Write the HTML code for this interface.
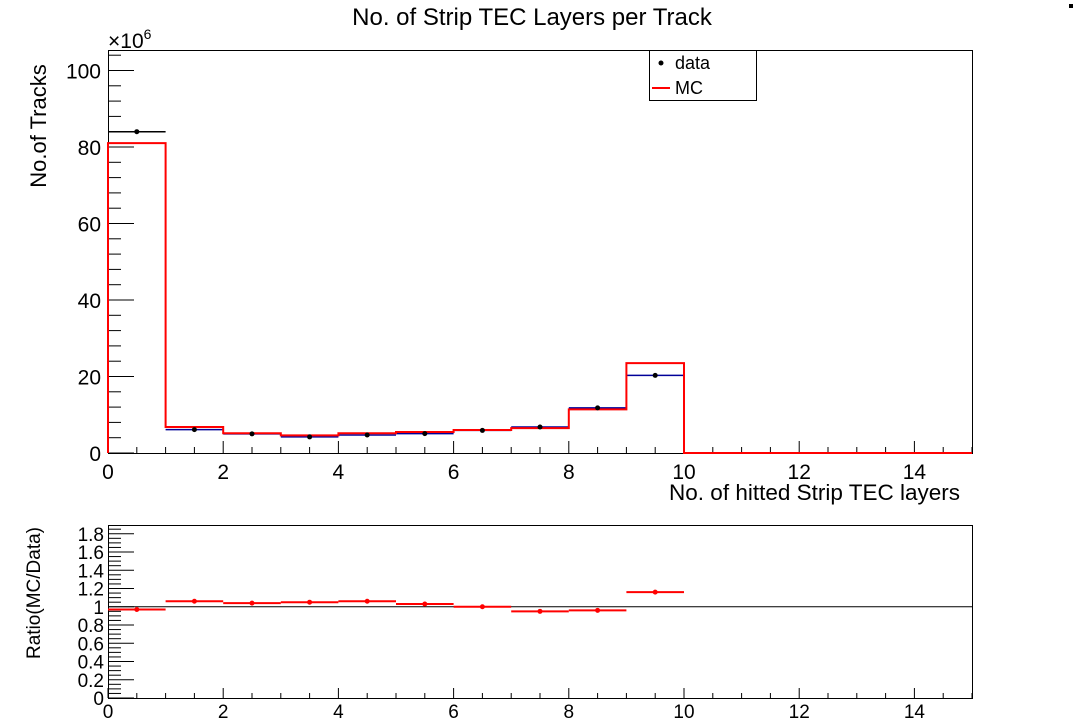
<!DOCTYPE html>
<html><head><meta charset="utf-8"><style>
body{margin:0;background:#fff;}
svg{display:block;font-family:"Liberation Sans",Arial,sans-serif;}
</style></head><body>
<svg id="c" width="1080" height="720" xmlns="http://www.w3.org/2000/svg">
<rect x="1069" y="4" width="4" height="4" fill="#000"/>
<text x="532" y="25" font-size="24" text-anchor="middle">No. of Strip TEC Layers per Track</text>
<text x="108" y="48" font-size="21">×10<tspan dy="-9" font-size="14">6</tspan></text>
<text transform="translate(46,126) rotate(-90)" font-size="22" text-anchor="middle">No.of Tracks</text>
<text x="960" y="500" font-size="22.5" text-anchor="end">No. of hitted Strip TEC layers</text>
<text transform="translate(40,593) rotate(-90)" font-size="19" text-anchor="middle">Ratio(MC/Data)</text>
<g id="main"></g><g id="ratio"></g>
<g>
<rect x="649.5" y="50.5" width="107" height="50" fill="#fff" stroke="#000"/>
<circle cx="661" cy="63" r="2.5" fill="#000"/>
<text x="675" y="69" font-size="18">data</text>
<line x1="652" y1="88" x2="670" y2="88" stroke="red" stroke-width="2"/>
<text x="675" y="94" font-size="18">MC</text>
</g>
</svg>
<script>
const binEdges=[0,1,2,3,4,5,6,7,8,9,10,11,12,13,14,15];
const dataVals=[84,6.1,5.0,4.2,4.7,5.07,5.9,6.8,11.8,20.3,0,0,0,0,0];
const mcVals=[81,6.8,5.15,4.6,5.15,5.5,6.0,6.5,11.4,23.5,0,0,0,0,0];
const ratioVals=[0.97,1.06,1.04,1.05,1.06,1.03,1.0,0.95,0.96,1.16];
const xTicks=[0,2,4,6,8,10,12,14];
const yTicks=[0,20,40,60,80,100];
const rTicks=[0,0.2,0.4,0.6,0.8,1,1.2,1.4,1.6,1.8];
const NS="http://www.w3.org/2000/svg";
const X0=108,X1=972;
const sx=v=>X0+v*(X1-X0)/15;
const sy=v=>453-v*3.825;
const sr=v=>698-v*91.25;
function mk(p,t,a){const e=document.createElementNS(NS,t);for(const k in a)e.setAttribute(k,a[k]);p.appendChild(e);return e;}
const M=document.getElementById('main'),R=document.getElementById('ratio');
let f=mk(M,'rect',{x:X0+.5,y:50.5,width:X1-X0,height:403,fill:'none',stroke:'#000'});


f=mk(R,'rect',{x:X0+.5,y:525.5,width:X1-X0,height:173,fill:'none',stroke:'#000'});


for(let v=0;v<=15;v+=0.5){const maj=v%2===0;
 mk(M,'line',{x1:sx(v),x2:sx(v),y1:453,y2:453-(maj?12:6),stroke:'#000'});
 mk(R,'line',{x1:sx(v),x2:sx(v),y1:698,y2:698-(maj?10:5),stroke:'#000'});}
xTicks.forEach(v=>{let t=mk(M,'text',{x:sx(v),y:479,'font-size':21,'text-anchor':'middle'});t.textContent=v;
 
 
 t=mk(R,'text',{x:sx(v),y:718,'font-size':19,'text-anchor':'middle'});t.textContent=v;
 
 });
for(let v=0;v<=104;v+=4){const maj=v%20===0;mk(M,'line',{x1:X0,x2:X0+(maj?26:13),y1:sy(v),y2:sy(v),stroke:'#000'});}
yTicks.forEach(v=>{const t=mk(M,'text',{x:101,y:sy(v)+8,'font-size':21,'text-anchor':'end'});t.textContent=v;
 
 });
for(let i=0;i<=38;i++){const v=i*0.05;const maj=i%4===0;if(sr(v)<525)continue;mk(R,'line',{x1:X0,x2:X0+(maj?26:13),y1:sr(v),y2:sr(v),stroke:'#000'});}
rTicks.forEach(v=>{const t=mk(R,'text',{x:104,y:sr(v)+7,'font-size':19,'text-anchor':'end'});t.textContent=(v===0||v===1)?v:v.toFixed(1);
 
 });
let l=mk(R,'line',{x1:X0,x2:X1,y1:sr(1),y2:sr(1),stroke:'#000'});


dataVals.forEach((v,i)=>{if(v<=0)return;
 const s=mk(M,'line',{x1:sx(binEdges[i]),x2:sx(binEdges[i+1]),y1:sy(v),y2:sy(v),stroke:i===0?'#000':'#000099','stroke-width':1.5});
 
 });
function step(vals){let d='M'+sx(binEdges[0])+','+sy(0);vals.forEach((v,i)=>{d+=' L'+sx(binEdges[i])+','+sy(v)+' L'+sx(binEdges[i+1])+','+sy(v);});return d;}
let p=mk(M,'path',{d:step(mcVals),fill:'none',stroke:'red','stroke-width':2});


dataVals.forEach((v,i)=>{if(v<=0)return;const c=(binEdges[i]+binEdges[i+1])/2;
 const d=mk(M,'circle',{cx:sx(c),cy:sy(v),r:2.5,fill:'#000'});
 
 });
ratioVals.forEach((v,i)=>{const c=(binEdges[i]+binEdges[i+1])/2;
 const b=mk(R,'line',{x1:sx(binEdges[i]),x2:sx(binEdges[i+1]),y1:sr(v),y2:sr(v),stroke:'red','stroke-width':2});
 
 
 const d=mk(R,'circle',{cx:sx(c),cy:sr(v),r:2.5,fill:'red'});
 
 });
</script>
</body></html>
